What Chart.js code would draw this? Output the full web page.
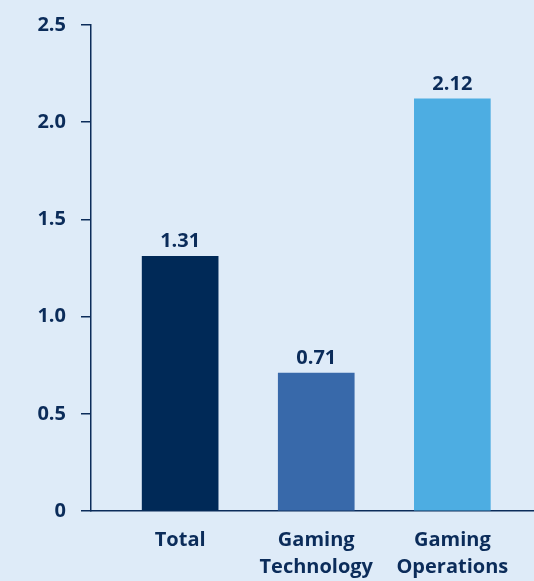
<!DOCTYPE html>
<html>
<head>
<meta charset="utf-8">
<script src="https://cdn.jsdelivr.net/npm/chart.js@4"></script>
<style>
  html, body { margin: 0; padding: 0; background: #deebf8; }
  #wrap { width: 534px; height: 581px; position: relative; }
</style>
</head>
<body>
<div id="wrap"><canvas id="myChart"></canvas></div>
<script>
// chart data
const categories = ["Total", ["Gaming", "Technology"], ["Gaming", "Operations"]];
const values = [1.31, 0.71, 2.12];
const yTicks = [0, 0.5, 1.0, 1.5, 2.0, 2.5];
const barColors = ["#002957", "#3869aa", "#4dade2"];

const navy = "#0b2c5a";
const xFont = { family: "'Open Sans', sans-serif", size: 20, weight: "bold", lineHeight: 1.35 };
const yFont = { family: "'Open Sans', sans-serif", size: 20, weight: "bold", lineHeight: 1 };

// writes the value above each bar
const valueLabels = {
  id: "valueLabels",
  afterDatasetsDraw(chart) {
    const ctx = chart.ctx;
    const meta = chart.getDatasetMeta(0);
    ctx.save();
    ctx.font = "bold 20px 'Open Sans', sans-serif";
    ctx.fillStyle = navy;
    ctx.textAlign = "center";
    ctx.textBaseline = "bottom";
    meta.data.forEach((bar, i) => {
      ctx.fillText(values[i].toFixed(2), bar.x, bar.y - 5);
    });
    ctx.restore();
  },
};

let ctx = document.getElementById("myChart");
new Chart(ctx, {
  type: "bar",
  data: {
    datasets: [
      {
        data: values.map((v, i) => ({ x: i + 1, y: v })),
        backgroundColor: barColors,
        borderWidth: 0,
        barThickness: 76,
      },
    ],
  },
  plugins: [valueLabels],
  options: {
    responsive: true,
    maintainAspectRatio: false,
    animation: false,
    layout: { padding: { top: 23, right: 0, left: 0, bottom: 0 } },
    plugins: {
      legend: { display: false },
      tooltip: { enabled: false },
    },
    scales: {
      x: {
        type: "linear",
        offset: false,
        min: 0.345,
        max: 3.6,
        afterBuildTicks: (scale) => {
          scale.ticks = categories.map((c, i) => ({ value: i + 1 }));
        },
        afterFit: (scale) => {
          scale.height = 70;
        },
        ticks: {
          callback: (v) => categories[v - 1],
          color: navy,
          font: xFont,
          padding: 16,
          autoSkip: false,
          maxRotation: 0,
        },
        grid: { drawOnChartArea: false, drawTicks: false },
        border: { color: navy, width: 1.5 },
      },
      y: {
        min: 0,
        max: 2.5,
        afterBuildTicks: (scale) => {
          scale.ticks = yTicks.map((v) => ({ value: v }));
        },
        afterFit: (scale) => {
          scale.width = 91;
        },
        ticks: {
          callback: (v) => (v === 0 ? "0" : v.toFixed(1)),
          color: navy,
          font: yFont,
          padding: 15,
        },
        grid: { drawOnChartArea: false, tickLength: 10, color: navy, lineWidth: 1.5 },
        border: { color: navy, width: 1.5 },
      },
    },
  },
});
</script>
</body>
</html>
